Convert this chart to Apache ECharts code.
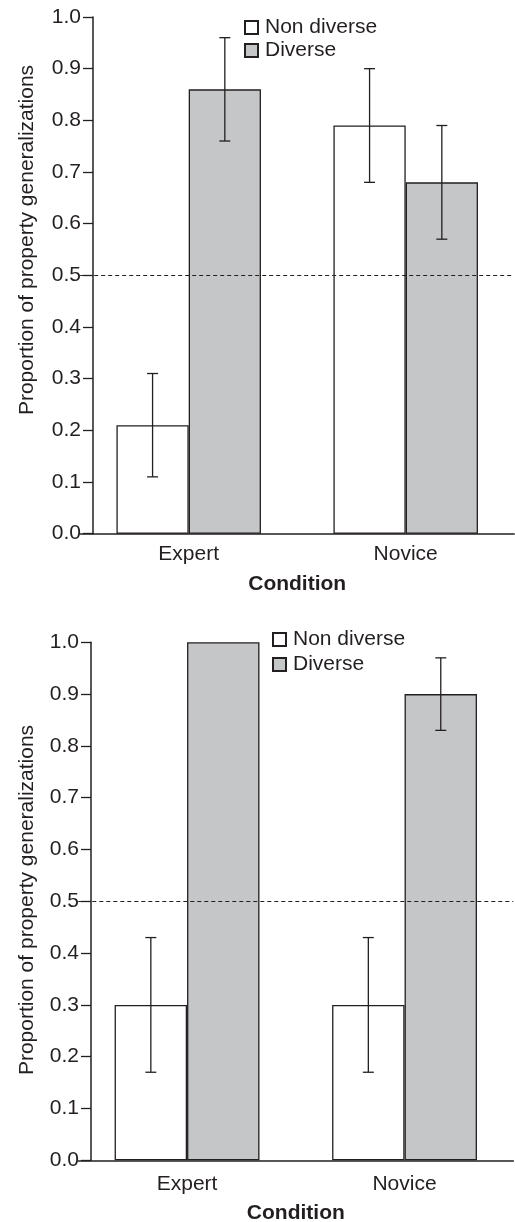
<!DOCTYPE html>
<html>
<head>
<meta charset="utf-8">
<script src="https://cdn.jsdelivr.net/npm/echarts@6/dist/echarts.min.js"></script>
<style>
  html, body { margin: 0; padding: 0; background: #fff; }
  #chart { width: 515px; height: 1222px; }
</style>
</head>
<body>
<div id="chart"></div>
<script>
// data
const categories = ['Expert', 'Novice'];
const seriesNames = ['Non diverse', 'Diverse'];
const yTicks = [0, 0.1, 0.2, 0.3, 0.4, 0.5, 0.6, 0.7, 0.8, 0.9, 1.0];
const chanceLevel = 0.5;

// top panel
const topNonDiverse = [0.21, 0.79];
const topNonDiverseLow = [0.11, 0.68];
const topNonDiverseHigh = [0.31, 0.90];
const topDiverse = [0.86, 0.68];
const topDiverseLow = [0.76, 0.57];
const topDiverseHigh = [0.96, 0.79];

// bottom panel
const bottomNonDiverse = [0.30, 0.30];
const bottomNonDiverseLow = [0.17, 0.17];
const bottomNonDiverseHigh = [0.43, 0.43];
const bottomDiverse = [1.00, 0.90];
const bottomDiverseLow = [null, 0.83];
const bottomDiverseHigh = [null, 0.97];

const ink = '#231f20';
const grey = '#c5c6c8';
const font = '"Liberation Sans", Arial, sans-serif';
const gapRatio = 0.334;

// build error bar rows: [category, low, high, side]
function errRows(ndLow, ndHigh, dLow, dHigh) {
  const rows = [];
  categories.forEach((c, i) => {
    if (ndLow[i] != null) rows.push([i, ndLow[i], ndHigh[i], 0]);
    if (dLow[i] != null) rows.push([i, dLow[i], dHigh[i], 1]);
  });
  return rows;
}

function renderErr(params, api) {
  const band = api.size([1, 0])[0];
  const bw = band * (1 - gapRatio) / 2;
  const base = api.coord([api.value(0), 0]);
  const x = base[0] + (api.value(3) === 0 ? -bw / 2 : bw / 2);
  const yLo = api.coord([api.value(0), api.value(1)])[1];
  const yHi = api.coord([api.value(0), api.value(2)])[1];
  const cap = 5.5;
  const style = { stroke: ink, lineWidth: 1.3 };
  return {
    type: 'group',
    children: [
      { type: 'line', shape: { x1: x, y1: yLo, x2: x, y2: yHi }, style },
      { type: 'line', shape: { x1: x - cap, y1: yLo, x2: x + cap, y2: yLo }, style },
      { type: 'line', shape: { x1: x - cap, y1: yHi, x2: x + cap, y2: yHi }, style }
    ]
  };
}

function xAxisFor(gridIndex, margin, nameGap) {
  return {
    type: 'category',
    gridIndex,
    data: categories,
    axisLine: { lineStyle: { color: ink, width: 1.5 } },
    axisTick: { show: false },
    axisLabel: { color: ink, fontSize: 21, fontFamily: font, margin },
    name: 'Condition',
    nameLocation: 'middle',
    nameGap,
    nameTextStyle: { color: ink, fontSize: 21, fontWeight: 'bold', fontFamily: font }
  };
}

function yAxisFor(gridIndex, offset) {
  return {
    type: 'value',
    gridIndex,
    min: yTicks[0],
    max: yTicks[yTicks.length - 1],
    interval: 0.1,
    offset,
    splitLine: { show: false },
    axisLine: { show: true, lineStyle: { color: ink, width: 1.5 } },
    axisTick: { show: true, length: 10, lineStyle: { color: ink, width: 1.3 } },
    axisLabel: {
      color: ink, fontSize: 21, fontFamily: font, margin: 12,
      formatter: v => v.toFixed(1)
    }
  };
}

function barSeries(name, data, idx, fill, withLine) {
  const s = {
    name,
    type: 'bar',
    xAxisIndex: idx,
    yAxisIndex: idx,
    data,
    barGap: '0%',
    barCategoryGap: (gapRatio * 100) + '%',
    itemStyle: { color: fill, borderColor: ink, borderWidth: 1.3 },
    emphasis: { disabled: true },
    animation: false
  };
  if (withLine) {
    s.markLine = {
      silent: true,
      symbol: 'none',
      label: { show: false },
      lineStyle: { color: ink, width: 1, type: [4, 3] },
      data: [{ yAxis: chanceLevel }]
    };
  }
  return s;
}

function legendFor(left, top, gap) {
  return {
    orient: 'vertical',
    left, top,
    padding: 0,
    itemGap: gap,
    itemWidth: 13,
    itemHeight: 13,
    icon: 'rect',
    selectedMode: false,
    data: seriesNames,
    textStyle: { color: ink, fontSize: 21, fontFamily: font, lineHeight: 23, padding: [0, 0, 0, 2] }
  };
}

const chart = echarts.init(document.getElementById('chart'), null, { renderer: 'canvas' });

chart.setOption({
  animation: false,
  backgroundColor: '#fff',
  grid: [
    { left: 80.2, width: 434, top: 17, height: 516.7, outerBoundsMode: 'none', containLabel: false },
    { left: 78.3, width: 435, top: 642.3, height: 518, outerBoundsMode: 'none', containLabel: false }
  ],
  legend: [legendFor(244, 16, 0), legendFor(272, 628, 2)],
  xAxis: [xAxisFor(0, 10, 40), xAxisFor(1, 13, 42)],
  yAxis: [yAxisFor(0, -12.8), yAxisFor(1, -12.7)],
  graphic: [
    {
      type: 'text', x: 27, y: 240, rotation: Math.PI / 2,
      style: { text: 'Proportion of property generalizations', fill: ink, fontSize: 21,
        fontFamily: font, align: 'center', verticalAlign: 'middle' }
    },
    {
      type: 'text', x: 27, y: 900, rotation: Math.PI / 2,
      style: { text: 'Proportion of property generalizations', fill: ink, fontSize: 21,
        fontFamily: font, align: 'center', verticalAlign: 'middle' }
    }
  ],
  series: [
    barSeries(seriesNames[0], topNonDiverse, 0, '#ffffff', true),
    barSeries(seriesNames[1], topDiverse, 0, grey, false),
    {
      type: 'custom', xAxisIndex: 0, yAxisIndex: 0, silent: true, z: 5,
      renderItem: renderErr,
      encode: { x: 0, y: [1, 2] },
      data: errRows(topNonDiverseLow, topNonDiverseHigh, topDiverseLow, topDiverseHigh)
    },
    barSeries(seriesNames[0], bottomNonDiverse, 1, '#ffffff', true),
    barSeries(seriesNames[1], bottomDiverse, 1, grey, false),
    {
      type: 'custom', xAxisIndex: 1, yAxisIndex: 1, silent: true, z: 5,
      renderItem: renderErr,
      encode: { x: 0, y: [1, 2] },
      data: errRows(bottomNonDiverseLow, bottomNonDiverseHigh, bottomDiverseLow, bottomDiverseHigh)
    }
  ]
});
</script>
</body>
</html>
